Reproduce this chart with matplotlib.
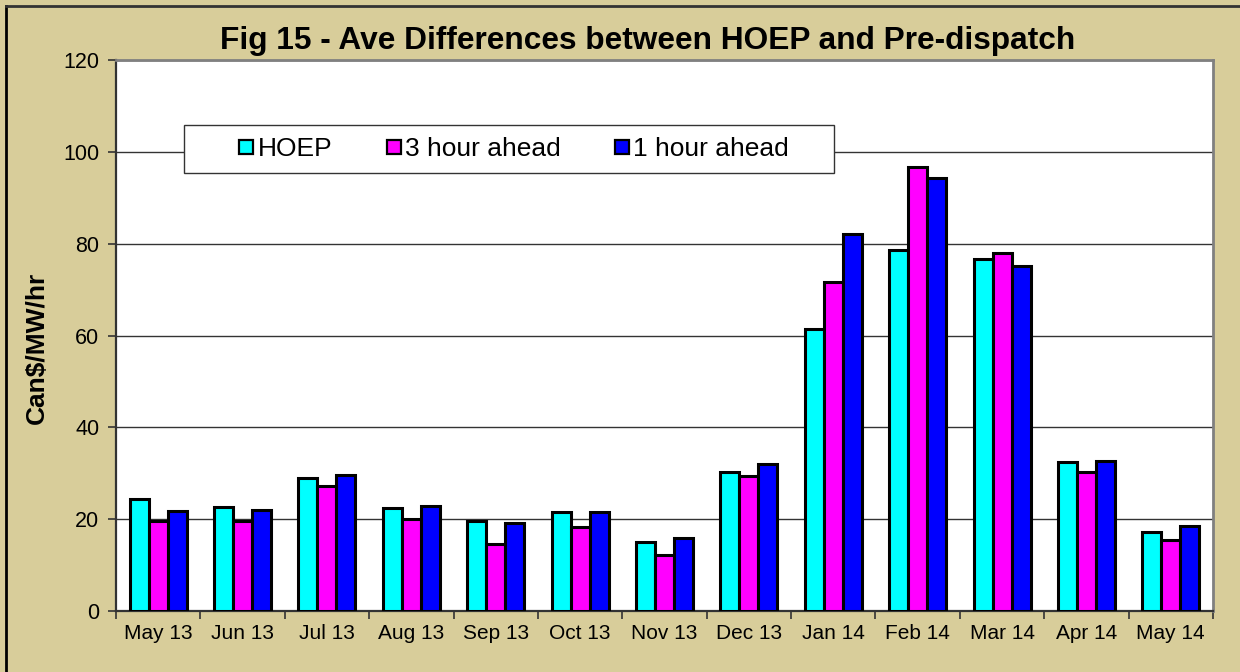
import matplotlib
matplotlib.use("Agg")
import matplotlib.pyplot as plt
import numpy as np
from matplotlib.lines import Line2D
from matplotlib.patches import Rectangle

months = ["May 13", "Jun 13", "Jul 13", "Aug 13", "Sep 13", "Oct 13", "Nov 13",
          "Dec 13", "Jan 14", "Feb 14", "Mar 14", "Apr 14", "May 14"]
hoep = [24.4, 22.6, 28.9, 22.4, 19.7, 21.5, 15.0, 30.2, 61.4, 78.6, 76.7, 32.4, 17.1]
hour3 = [19.7, 19.5, 27.3, 20.0, 14.5, 18.2, 12.3, 29.4, 71.6, 96.7, 78.0, 30.3, 15.4]
hour1 = [21.8, 22.0, 29.6, 22.9, 19.2, 21.5, 15.8, 32.0, 82.1, 94.4, 75.1, 32.7, 18.6]
series_names = ["HOEP", "3 hour ahead", "1 hour ahead"]
series_colors = ["#00FFFF", "#FF00FF", "#0000FF"]
yticks = [0, 20, 40, 60, 80, 100, 120]

plt.rcParams['font.family'] = ['Liberation Sans', 'DejaVu Sans']

W, H = 1240, 672
bg = "#D8CD9A"
fig = plt.figure(figsize=(12.4, 6.72), dpi=100, facecolor=bg)
L, R, T, B = 116, 1213, 60, 611
ax = fig.add_axes([L/W, 1 - B/H, (R-L)/W, (B-T)/H])
ax.set_facecolor("white")

def ax_x(px):
    return (px - L) / (R - L)

def ax_y(py):
    return (B - py) / (B - T)

x = np.arange(len(months))
w = 0.225
for i, (vals, name, col) in enumerate(zip([hoep, hour3, hour1], series_names, series_colors)):
    ax.bar(x + (i - 1) * w, vals, width=w, color=col, edgecolor="black",
           linewidth=2.2, label=name, zorder=3)

ax.set_xlim(-0.5, len(months) - 0.5)
ax.set_ylim(0, 120)
ax.set_yticks(yticks)
ax.set_yticklabels([str(t) for t in yticks], fontsize=15.5)
ax.set_xticks(x)
ax.set_xticklabels(months, fontsize=15)
ax.tick_params(axis='x', length=0, pad=9.5)
ax.set_xticks(np.arange(len(months) + 1) - 0.5, minor=True)
ax.tick_params(axis='x', which='minor', length=6, width=1.2, direction='out', color='#333333')
ax.tick_params(axis='y', length=6, width=1.2, direction='out', color='#333333', pad=6)

ax.yaxis.grid(True, color="#333333", linewidth=1.0, zorder=1)
ax.set_axisbelow(True)

for s in ['left', 'bottom']:
    ax.spines[s].set_color('#333333')
    ax.spines[s].set_linewidth(1.6)
for s in ['top', 'right']:
    ax.spines[s].set_color('#808080')
    ax.spines[s].set_linewidth(2.0)

ax.set_ylabel("Can$/MW/hr", fontsize=19, fontweight='bold')
ax.yaxis.set_label_coords(ax_x(37), ax_y(347.5))
ax.yaxis.label.set_va('center')

fig.text(648/W, 1 - 49.5/H, "Fig 15 - Ave Differences between HOEP and Pre-dispatch",
         ha='center', va='baseline', fontsize=22.8, fontweight='bold')

# legend frame
ax.add_patch(Rectangle((ax_x(184), ax_y(173)), ax_x(834) - ax_x(184), ax_y(125) - ax_y(173),
                       transform=ax.transAxes, facecolor='white', edgecolor='#333333',
                       linewidth=1.0, zorder=5))
handles = [Line2D([0], [0], marker='s', linestyle='none', markersize=9.5,
                  markerfacecolor=c, markeredgecolor='black', markeredgewidth=1.6)
           for c in series_colors]
leg = ax.legend(handles, series_names, ncol=3, loc='center',
                bbox_to_anchor=(ax_x(514), ax_y(149)),
                fontsize=19, frameon=False,
                handlelength=0.55, handletextpad=0.15, columnspacing=2.05,
                borderaxespad=0, borderpad=0)
leg.set_zorder(6)

# outer border on left and top edges
fig.add_artist(Line2D([6/W, 6/W], [0, 1 - 6/H], transform=fig.transFigure, color='black', linewidth=2))
fig.add_artist(Line2D([6/W, 1], [1 - 6/H, 1 - 6/H], transform=fig.transFigure, color='#333333', linewidth=2))

fig.savefig("out.png", dpi=100, facecolor=bg)
